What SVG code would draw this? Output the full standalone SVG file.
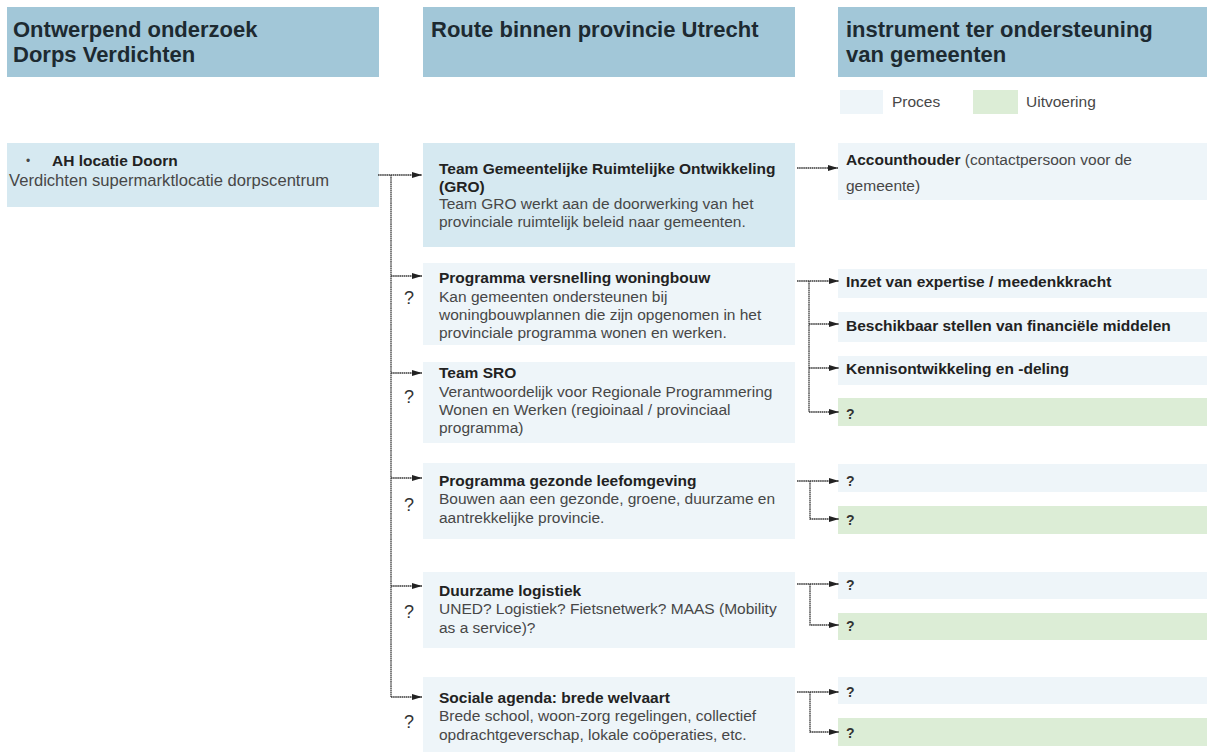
<svg xmlns="http://www.w3.org/2000/svg" width="1207" height="753" viewBox="0 0 1207 753">
<defs>
<style>
text{font-family:"Liberation Sans",Arial,sans-serif;}
.hdr{fill:#a2c7d8;}
.hd{font-size:22px;font-weight:bold;fill:#1d2a31;}
.mid{fill:#d6e9f1;}
.pro{fill:#eef5f9;}
.uit{fill:#dcedd6;}
.b{font-size:15.5px;font-weight:bold;fill:#222;}
.t{font-size:15.5px;fill:#474747;}
.q{font-size:18px;fill:#333;}
.qs{font-size:14px;font-weight:bold;fill:#333;}
.c{fill:none;stroke:#3a3a3a;stroke-width:1.3;stroke-dasharray:1.6 0.5;}
</style>
<marker id="ah" markerWidth="10" markerHeight="7" refX="10" refY="3.5" orient="auto" markerUnits="userSpaceOnUse">
<path d="M0,0.5 L10,3.5 L0,6.5 Z" fill="#222"/>
</marker>
</defs>
<rect width="1207" height="753" fill="#fff"/>

<g id="header-left"><rect class="hdr" x="7" y="7" width="372" height="70"/>
<text class="hd" x="13" y="37">Ontwerpend onderzoek</text><text class="hd" x="13" y="62">Dorps Verdichten</text></g>
<g id="header-mid"><rect class="hdr" x="423" y="7" width="372" height="70"/>
<text class="hd" x="431" y="37">Route binnen provincie Utrecht</text></g>
<g id="header-right"><rect class="hdr" x="838" y="7" width="369" height="70"/>
<text class="hd" x="846" y="37">instrument ter ondersteuning</text><text class="hd" x="846" y="62">van gemeenten</text></g>

<g id="legend">
<rect class="pro" x="840" y="90" width="43" height="24"/><text class="t" x="892" y="107">Proces</text>
<rect class="uit" x="973" y="90" width="45" height="24"/><text class="t" x="1026" y="107">Uitvoering</text>
</g>

<g id="node-ah"><rect class="mid" x="7" y="143" width="372" height="64"/>
<text class="t" x="26" y="165" style="font-size:12px">•</text>
<text class="b" x="52" y="166">AH locatie Doorn</text>
<text class="t" x="9" y="186" style="font-size:16.6px">Verdichten supermarktlocatie dorpscentrum</text></g>

<g id="node-gro"><rect class="mid" x="423" y="143" width="372" height="104"/>
<text class="b" x="439" y="174">Team Gemeentelijke Ruimtelijke Ontwikkeling</text>
<text class="b" x="439" y="192">(GRO)</text>
<text class="t" x="439" y="209">Team GRO werkt aan de doorwerking van het</text>
<text class="t" x="439" y="227">provinciale ruimtelijk beleid naar gemeenten.</text></g>

<g id="node-pvw"><rect class="pro" x="423" y="263" width="372" height="82"/>
<text class="b" x="439" y="283">Programma versnelling woningbouw</text>
<text class="t" x="439" y="302">Kan gemeenten ondersteunen bij</text>
<text class="t" x="439" y="320">woningbouwplannen die zijn opgenomen in het</text>
<text class="t" x="439" y="338">provinciale programma wonen en werken.</text>
<text class="q" x="404" y="304">?</text></g>

<g id="node-sro"><rect class="pro" x="423" y="362" width="372" height="81"/>
<text class="b" x="439" y="378">Team SRO</text>
<text class="t" x="439" y="397">Verantwoordelijk voor Regionale Programmering</text>
<text class="t" x="439" y="415">Wonen en Werken (regioinaal / provinciaal</text>
<text class="t" x="439" y="433">programma)</text>
<text class="q" x="404" y="403">?</text></g>

<g id="node-pgl"><rect class="pro" x="423" y="463" width="372" height="76"/>
<text class="b" x="439" y="486">Programma gezonde leefomgeving</text>
<text class="t" x="439" y="504">Bouwen aan een gezonde, groene, duurzame en</text>
<text class="t" x="439" y="523">aantrekkelijke provincie.</text>
<text class="q" x="404" y="511">?</text></g>

<g id="node-dl"><rect class="pro" x="423" y="572" width="372" height="76"/>
<text class="b" x="439" y="596">Duurzame logistiek</text>
<text class="t" x="439" y="614">UNED? Logistiek? Fietsnetwerk? MAAS (Mobility</text>
<text class="t" x="439" y="633">as a service)?</text>
<text class="q" x="404" y="618">?</text></g>

<g id="node-sa"><rect class="pro" x="423" y="677" width="372" height="75"/>
<text class="b" x="439" y="703">Sociale agenda: brede welvaart</text>
<text class="t" x="439" y="721">Brede school, woon-zorg regelingen, collectief</text>
<text class="t" x="439" y="740">opdrachtgeverschap, lokale coöperaties, etc.</text>
<text class="q" x="404" y="728">?</text></g>

<g id="node-acc"><rect class="pro" x="838" y="143" width="369" height="57"/>
<text x="846" y="165"><tspan class="b">Accounthouder</tspan><tspan class="t"> (contactpersoon voor de</tspan></text>
<text class="t" x="846" y="191">gemeente)</text></g>

<g id="node-inzet"><rect class="pro" x="838" y="269" width="369" height="29"/><text class="b" x="846" y="287">Inzet van expertise / meedenkkracht</text></g>
<g id="node-besch"><rect class="pro" x="838" y="312" width="369" height="30"/><text class="b" x="846" y="331">Beschikbaar stellen van financiële middelen</text></g>
<g id="node-kennis"><rect class="pro" x="838" y="356" width="369" height="29"/><text class="b" x="846" y="374">Kennisontwikkeling en -deling</text></g>
<g id="node-q1"><rect class="uit" x="838" y="398" width="369" height="28"/><text class="qs" x="846" y="419">?</text></g>
<g id="node-q2"><rect class="pro" x="838" y="464" width="369" height="28"/><text class="qs" x="846" y="486">?</text></g>
<g id="node-q3"><rect class="uit" x="838" y="506" width="369" height="28"/><text class="qs" x="846" y="525">?</text></g>
<g id="node-q4"><rect class="pro" x="838" y="572" width="369" height="27"/><text class="qs" x="846" y="590">?</text></g>
<g id="node-q5"><rect class="uit" x="838" y="613" width="369" height="27"/><text class="qs" x="846" y="631">?</text></g>
<g id="node-q6"><rect class="pro" x="838" y="677" width="369" height="27"/><text class="qs" x="846" y="697">?</text></g>
<g id="node-q7"><rect class="uit" x="838" y="718" width="369" height="28"/><text class="qs" x="846" y="738">?</text></g>

<g id="connectors">
<path class="c" d="M378,175 H422" marker-end="url(#ah)"/>
<path class="c" d="M391,175 V697"/>
<path class="c" d="M391,276 H422" marker-end="url(#ah)"/>
<path class="c" d="M391,373 H422" marker-end="url(#ah)"/>
<path class="c" d="M391,478 H422" marker-end="url(#ah)"/>
<path class="c" d="M391,586 H422" marker-end="url(#ah)"/>
<path class="c" d="M391,697 H422" marker-end="url(#ah)"/>

<path class="c" d="M797,168 H838" marker-end="url(#ah)"/>

<path class="c" d="M797,281 H839" marker-end="url(#ah)"/>
<path class="c" d="M809,281 V412"/>
<path class="c" d="M809,324 H839" marker-end="url(#ah)"/>
<path class="c" d="M809,368 H839" marker-end="url(#ah)"/>
<path class="c" d="M809,412 H839" marker-end="url(#ah)"/>

<path class="c" d="M797,481 H839" marker-end="url(#ah)"/>
<path class="c" d="M810,481 V519 H839" marker-end="url(#ah)"/>

<path class="c" d="M797,584 H839" marker-end="url(#ah)"/>
<path class="c" d="M810,584 V625 H839" marker-end="url(#ah)"/>

<path class="c" d="M797,692 H839" marker-end="url(#ah)"/>
<path class="c" d="M810,692 V732 H839" marker-end="url(#ah)"/>
</g>
</svg>
